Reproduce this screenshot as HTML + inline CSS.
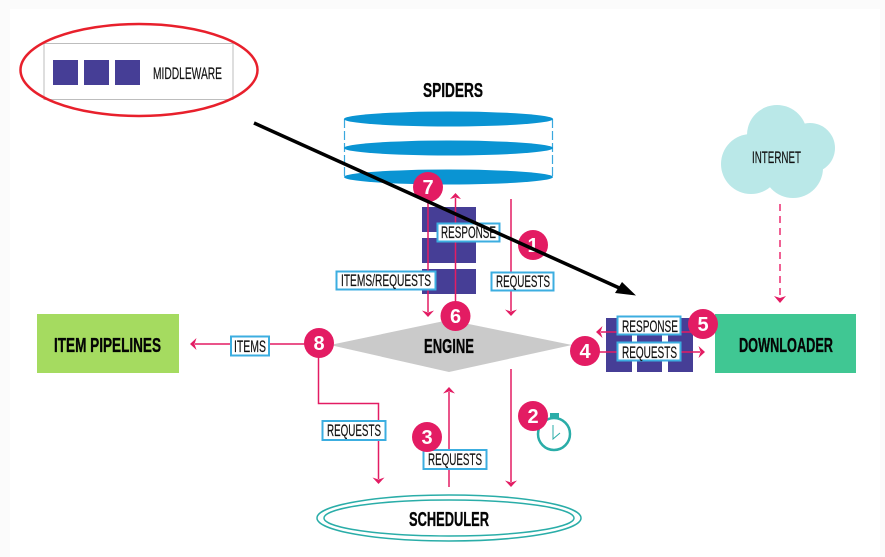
<!DOCTYPE html>
<html><head><meta charset="utf-8"><style>
html,body{margin:0;padding:0;background:#fbfbfb}
svg{display:block}
text{font-family:"Liberation Sans Narrow","Liberation Sans",sans-serif;fill:#1a1a1a}
.h{font-weight:bold;font-size:20.5px;fill:#050505;stroke:#050505;stroke-width:.35px}
.l{font-size:17px;fill:#111;stroke:#111;stroke-width:.2px}
.n{font-family:"Liberation Sans",sans-serif;font-weight:bold;font-size:20px;fill:#fff;text-anchor:middle}
.lb{fill:#fff;stroke:#3caee0;stroke-width:2}
.p{stroke:#e31c63;stroke-width:1.500;fill:none}
.a{fill:#e31c63;stroke:none}
.c{fill:#e31c63}
.m{fill:#463e96}
</style></head><body>
<svg width="885" height="557" viewBox="0 0 885 557" xmlns="http://www.w3.org/2000/svg">
<rect x="10" y="9" width="870" height="548" fill="#fff"/>

<rect x="44" y="43.500" width="189" height="56" fill="#fff" stroke="#bdbdbd" stroke-width="1"/>
<rect class="m" x="53" y="60" width="25" height="25"/>
<rect class="m" x="84" y="60" width="25" height="25"/>
<rect class="m" x="115" y="60" width="25" height="25"/>
<text class="l" x="153" y="79" textLength="69" lengthAdjust="spacingAndGlyphs">MIDDLEWARE</text>
<ellipse cx="139" cy="70" rx="118.500" ry="46" fill="none" stroke="#e8202c" stroke-width="2.500"/>

<text class="h" x="423" y="97" textLength="60" lengthAdjust="spacingAndGlyphs">SPIDERS</text>
<path d="M344.500 119V177M552.500 119V177" stroke="#3aa8de" stroke-width="1.200" stroke-dasharray="9 3" fill="none"/>
<ellipse cx="448.500" cy="119" rx="104.500" ry="7.500" fill="#0a94d3"/>
<ellipse cx="448.500" cy="148" rx="104.500" ry="7.500" fill="#0a94d3"/>
<ellipse cx="448.500" cy="177" rx="104.500" ry="7.500" fill="#0a94d3"/>

<rect class="m" x="422" y="207" width="54" height="25"/>
<rect class="m" x="422" y="238" width="54" height="25"/>
<rect class="m" x="422" y="269" width="54" height="25"/>

<g fill="#bae8e8">
<circle cx="751" cy="164" r="30"/><circle cx="777" cy="135" r="30"/><circle cx="810" cy="148" r="25"/><circle cx="793" cy="168" r="30"/>
<rect x="760" y="140" width="40" height="30"/>
</g>
<text class="l" x="752" y="163" textLength="49" lengthAdjust="spacingAndGlyphs">INTERNET</text>

<path d="M780 204V298" stroke="#ee4f88" stroke-width="1.800" stroke-dasharray="7 5" fill="none"/>
<path class="a" d="M780 303L774 296L780 298L786 296Z"/>

<polygon points="330,345 449,320 572,345 449,372" fill="#cacaca"/>
<text class="h" x="424" y="353" textLength="50" lengthAdjust="spacingAndGlyphs">ENGINE</text>

<rect x="37" y="314" width="142" height="59" fill="#a5db60"/>
<text class="h" x="54" y="352" textLength="107" lengthAdjust="spacingAndGlyphs">ITEM PIPELINES</text>
<rect x="715" y="314" width="141" height="59" fill="#40c793"/>
<text class="h" x="739" y="352" textLength="94" lengthAdjust="spacingAndGlyphs">DOWNLOADER</text>

<rect class="m" x="606" y="318" width="26" height="54"/>
<rect class="m" x="637" y="318" width="25" height="54"/>
<rect class="m" x="668" y="318" width="25" height="54"/>

<ellipse cx="449" cy="518" rx="132" ry="23" fill="none" stroke="#2aada8" stroke-width="1.500"/>
<ellipse cx="449" cy="518" rx="125" ry="18" fill="none" stroke="#2aada8" stroke-width="1.500"/>
<text class="h" x="409" y="526" textLength="80" lengthAdjust="spacingAndGlyphs">SCHEDULER</text>

<!-- connectors -->
<path class="p" d="M428 187V312"/>
<path class="a" d="M428 317L422 310.500L428 312.500L434 310.500Z"/>
<path class="p" d="M455.500 316V198"/>
<path class="a" d="M455.500 193L461 199L455.500 197.500L450 199Z"/>
<path class="p" d="M511 199V311"/>
<path class="a" d="M511 316L505 309.500L511 311.500L517 309.500Z"/>
<path class="p" d="M511 369V482"/>
<path class="a" d="M511 487L505 480.500L511 482.500L517 480.500Z"/>
<path class="p" d="M449 487V392"/>
<path class="a" d="M449 387L455 393.500L449 391.500L443 393.500Z"/>
<path class="p" d="M319 344H195"/>
<path class="a" d="M190 344L196.500 338L194.500 344L196.500 350Z"/>
<path class="p" d="M318.500 344V403.500H378.500V479"/>
<path class="a" d="M378.500 484L372.500 477.500L378.500 479.500L384.500 477.500Z"/>
<path class="p" d="M703 332H601"/>
<path class="a" d="M596 332L602.500 326L600.500 332L602.500 338Z"/>
<path class="p" d="M585 352H700"/>
<path class="a" d="M705 352L698.500 346L700.500 352L698.500 358Z"/>

<!-- labels -->
<rect class="lb" x="437.500" y="223.500" width="62" height="18"/>
<text class="l" x="441" y="238" textLength="55" lengthAdjust="spacingAndGlyphs">RESPONSE</text>
<rect class="lb" x="336.500" y="271.500" width="99" height="18"/>
<text class="l" x="341" y="286" textLength="90" lengthAdjust="spacingAndGlyphs">ITEMS/REQUESTS</text>
<rect class="lb" x="491.500" y="272.500" width="62" height="18"/>
<text class="l" x="496" y="287" textLength="54" lengthAdjust="spacingAndGlyphs">REQUESTS</text>
<rect class="lb" x="617.500" y="316.500" width="63" height="18"/>
<text class="l" x="622" y="332" textLength="56" lengthAdjust="spacingAndGlyphs">RESPONSE</text>
<rect class="lb" x="617.500" y="342.500" width="63" height="18"/>
<text class="l" x="622" y="358" textLength="55" lengthAdjust="spacingAndGlyphs">REQUESTS</text>
<rect class="lb" x="231" y="336.500" width="38" height="19"/>
<text class="l" x="234" y="352" textLength="32" lengthAdjust="spacingAndGlyphs">ITEMS</text>
<rect class="lb" x="322.500" y="421" width="63" height="19"/>
<text class="l" x="327" y="436" textLength="54" lengthAdjust="spacingAndGlyphs">REQUESTS</text>
<rect class="lb" x="423.500" y="450" width="63" height="19"/>
<text class="l" x="428" y="465" textLength="54" lengthAdjust="spacingAndGlyphs">REQUESTS</text>

<!-- clock -->
<circle cx="554" cy="434" r="16" fill="#fff" stroke="#2aada8" stroke-width="2.500"/>
<rect x="550" y="413" width="9" height="5" fill="#2aada8"/>
<path d="M553 425V439L560 433" fill="none" stroke="#2aada8" stroke-width="1"/>

<!-- numbers -->
<circle class="c" cx="533" cy="245" r="15"/><text class="n" x="533" y="252">1</text>
<circle class="c" cx="533" cy="416" r="15"/><text class="n" x="533" y="423">2</text>
<circle class="c" cx="427" cy="437" r="15"/><text class="n" x="427" y="444">3</text>
<circle class="c" cx="585" cy="351" r="15"/><text class="n" x="585" y="358">4</text>
<circle class="c" cx="703" cy="324" r="15"/><text class="n" x="703" y="331">5</text>
<circle class="c" cx="455.500" cy="316" r="15"/><text class="n" x="455.500" y="323">6</text>
<circle class="c" cx="428" cy="187" r="15"/><text class="n" x="428" y="194">7</text>
<circle class="c" cx="319" cy="343" r="15"/><text class="n" x="319" y="350">8</text>

<!-- black arrow -->
<path d="M254 123L626 291" stroke="#000" stroke-width="3.500" fill="none"/>
<polygon points="636,295.500 615,293 622,282" fill="#000"/>
</svg>
</body></html>
